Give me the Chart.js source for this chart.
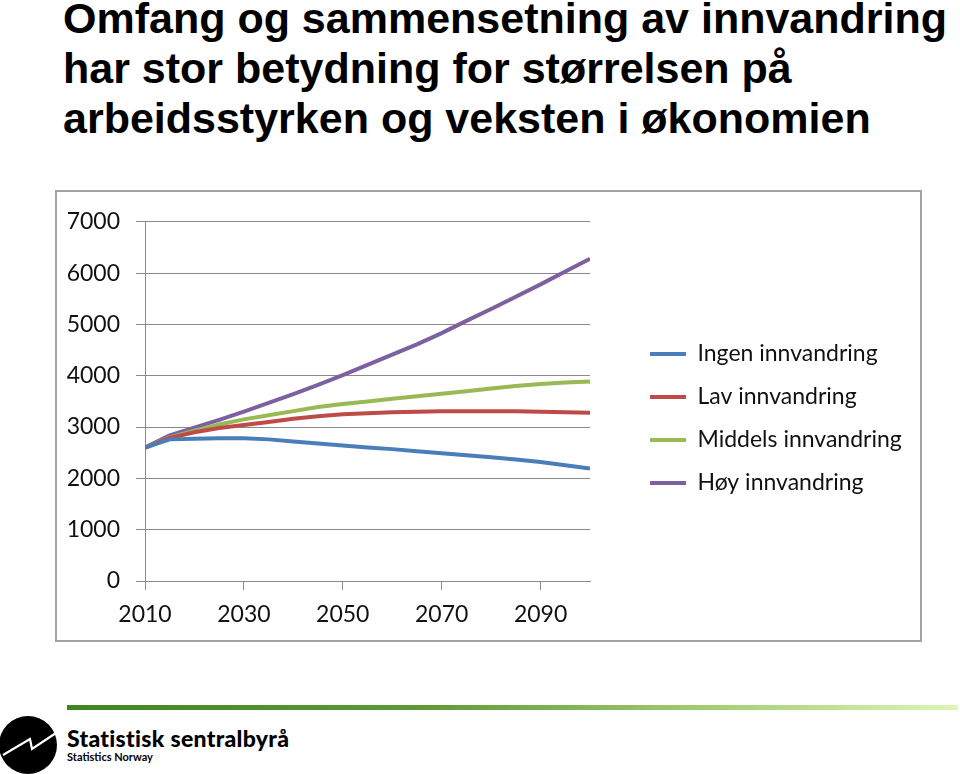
<!DOCTYPE html>
<html lang="no">
<head>
<meta charset="utf-8">
<title>Omfang og sammensetning av innvandring</title>
<script src="https://cdn.jsdelivr.net/npm/chart.js@4.4.1/dist/chart.umd.min.js"></script>
<style>
  html, body { margin: 0; padding: 0; background: #fff; }
  body { width: 960px; height: 774px; position: relative; overflow: hidden; }
  .tittel {
    position: absolute; left: 63px; top: -7px; margin: 0;
    font-family: "Liberation Sans", Arial, sans-serif; font-weight: bold;
    font-size: 43px; line-height: 50px; color: #000;
  }
  .boks {
    position: absolute; left: 55px; top: 190px; width: 863px; height: 448px;
    border: 2px solid #a3a3a3; background: #fff;
  }
  .stripe {
    position: absolute; left: 67px; top: 705px; width: 891px; height: 5px;
    background: linear-gradient(to right, #3f8424 0%, #5f9a35 40%, #a9d27a 75%, #dcf5b8 100%);
  }
  .logo { position: absolute; left: -1px; top: 715px; }
  .ssb { position: absolute; left: 67px; top: 726px; font-family: Lato, sans-serif; color: #000; }
  .ssb .navn { font-weight: 900; font-size: 23px; line-height: 25px; letter-spacing: 0.3px; }
  .ssb .eng { font-weight: bold; font-size: 11px; line-height: 12px; }
</style>
</head>
<body>

<h1 class="tittel">Omfang og sammensetning av innvandring<br>har stor betydning for størrelsen på<br>arbeidsstyrken og veksten i økonomien</h1>

<div class="boks"><canvas id="arbeidsstyrke" width="863" height="448"></canvas></div>

<div class="stripe"></div>
<svg class="logo" width="60" height="60" viewBox="0 0 60 60">
  <circle cx="29" cy="30" r="29" fill="#000"/>
  <polyline points="4,40 31,24 33,34 57,18" fill="none" stroke="#fff" stroke-width="2.2"/>
</svg>
<div class="ssb">
  <div class="navn">Statistisk sentralbyrå</div>
  <div class="eng">Statistics Norway</div>
</div>

<script>
// år og tall (1000 personer), lest av figuren
const aar = [2010, 2015, 2020, 2025, 2030, 2035, 2040, 2045, 2050, 2055,
             2060, 2065, 2070, 2075, 2080, 2085, 2090, 2095, 2100];

const ingen = [2600, 2760, 2770, 2780, 2780, 2760, 2720, 2680, 2640, 2600,
               2570, 2530, 2490, 2450, 2410, 2370, 2320, 2255, 2190];
const lav = [2600, 2790, 2900, 2980, 3040, 3100, 3160, 3210, 3250, 3270,
             3290, 3300, 3310, 3310, 3310, 3310, 3300, 3290, 3280];
const middels = [2600, 2800, 2930, 3050, 3150, 3230, 3310, 3390, 3450, 3500,
                 3550, 3600, 3650, 3700, 3750, 3800, 3840, 3870, 3890];
const hoy = [2600, 2840, 2990, 3140, 3300, 3470, 3640, 3820, 4010, 4210,
             4410, 4610, 4830, 5070, 5300, 5540, 5780, 6030, 6280];

const serier = ['Ingen innvandring', 'Lav innvandring', 'Middels innvandring', 'Høy innvandring'];
const farger = ['#4a7ebb', '#be4b48', '#98b954', '#7d60a0'];

const xTicks = [2010, 2030, 2050, 2070, 2090];
const yTicks = [0, 1000, 2000, 3000, 4000, 5000, 6000, 7000];

const grid = '#8a8a8a';
const tickFont = { family: 'Lato', size: 23 };

// fast bredde på legenden, og flytt den litt ut fra plottet
const legendeBredde = 330;
const flyttLegende = {
    id: 'flyttLegende',
    beforeLayout(chart) {
        const lg = chart.legend;
        if (lg && !lg._fastBredde) {
            const fit = lg.fit.bind(lg);
            lg.fit = function () { fit(); this.width = legendeBredde; };
            lg._fastBredde = true;
        }
    },
    afterLayout(chart) {
        const lg = chart.legend;
        lg.left += 40; lg.right += 40;
        lg.top -= 10; lg.bottom -= 10;
    }
};

const ctx = document.getElementById('arbeidsstyrke');
new Chart(ctx, {
    type: 'line',
    data: {
        datasets: [ingen, lav, middels, hoy].map((verdier, i) => ({
            label: serier[i],
            data: verdier.map((v, j) => ({ x: aar[j], y: v })),
            borderColor: farger[i],
            backgroundColor: farger[i],
            borderWidth: 4,
            pointRadius: 0,
            tension: 0
        }))
    },
    options: {
        responsive: false,
        animation: false,
        layout: { padding: { top: 25, right: 0, left: 0, bottom: 0 } },
        plugins: {
            tooltip: { enabled: false },
            legend: {
                position: 'right',
                labels: {
                    color: '#111',
                    font: { family: 'Lato', size: 23 },
                    boxWidth: 36,
                    boxHeight: 0,
                    padding: 20
                }
            }
        },
        scales: {
            x: {
                type: 'linear',
                min: 2010,
                max: 2100,
                afterBuildTicks: s => { s.ticks = xTicks.map(v => ({ value: v })); },
                afterFit: s => { s.height = 59; },
                grid: { drawOnChartArea: false, drawTicks: true, tickLength: 9, color: grid },
                border: { color: grid, width: 1 },
                ticks: { color: '#111', font: tickFont, padding: 11, maxRotation: 0, callback: v => String(v) }
            },
            y: {
                min: 0,
                max: 7000,
                afterBuildTicks: s => { s.ticks = yTicks.map(v => ({ value: v })); },
                afterFit: s => { s.width = 88; },
                grid: { color: grid, tickLength: 9 },
                border: { color: grid, width: 1 },
                ticks: { color: '#111', font: tickFont, padding: 16, callback: v => String(v) }
            }
        }
    },
    plugins: [flyttLegende]
});
</script>
</body>
</html>
